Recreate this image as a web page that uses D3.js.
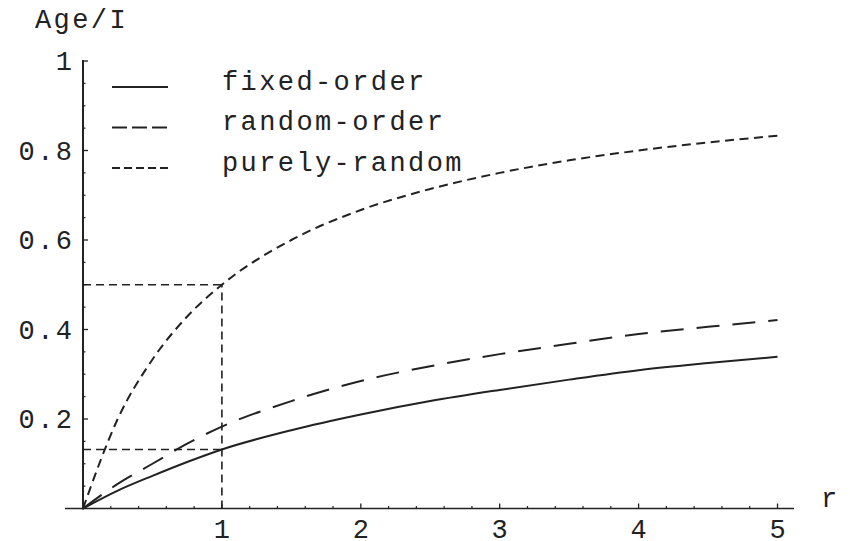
<!DOCTYPE html>
<html><head><meta charset="utf-8">
<script src="https://cdn.jsdelivr.net/npm/d3@7"></script>
<style>
html,body{margin:0;padding:0;background:#fff;}
svg{display:block;}
text{font-family:"Liberation Mono","DejaVu Sans Mono",monospace;fill:#222;}
</style></head>
<body>
<svg id="chart" width="850" height="541"></svg>
<script>
// ---- data ----
const rValues      = [0, 0.25, 0.5, 0.75, 1, 1.5, 2, 2.5, 3, 3.5, 4, 4.5, 5];
const fixedOrder   = [0, 0.040, 0.073, 0.104, 0.132, 0.175, 0.210, 0.240, 0.265, 0.288, 0.309, 0.325, 0.339];
const randomOrder  = [0, 0.055, 0.100, 0.145, 0.183, 0.240, 0.285, 0.318, 0.345, 0.368, 0.390, 0.406, 0.421];
const purelyRandom = [0, 0.200, 0.333, 0.429, 0.500, 0.600, 0.667, 0.714, 0.750, 0.778, 0.800, 0.818, 0.833];
const seriesNames  = ["fixed-order", "random-order", "purely-random"];
const xTickLabels  = ["1", "2", "3", "4", "5"];
const yTickLabels  = ["0.2", "0.4", "0.6", "0.8", "1"];
const markR = 1;                 // marked point on the r axis
const markPurely = 0.5;          // purely-random value at r = 1
const markFixed = 0.132;         // fixed-order value at r = 1

const svg = d3.select("#chart");
const x = d3.scaleLinear().domain([0, 5]).range([83, 777.5]);
const y = d3.scaleLinear().domain([0, 1]).range([508.5, 61]);
const ink = "#222";
const LS = 2.4, FS = 27;

// axes lines
svg.append("line").attr("x1", 65).attr("x2", 794).attr("y1", y(0)).attr("y2", y(0))
  .attr("stroke", ink).attr("stroke-width", 1.6);
svg.append("line").attr("x1", x(0)).attr("x2", x(0)).attr("y1", y(0) + 1).attr("y2", y(1) - 1)
  .attr("stroke", ink).attr("stroke-width", 2);

// x ticks (major at integers, minor each 0.2)
const xMinor = d3.range(0, 5.01, 0.2).filter(v => Math.abs(v - Math.round(v)) > 1e-6);
svg.append("g").selectAll("line").data(xMinor).join("line")
  .attr("x1", d => x(d)).attr("x2", d => x(d)).attr("y1", y(0)).attr("y2", y(0) - 2.5)
  .attr("stroke", ink).attr("stroke-width", 1.2);
svg.append("g").selectAll("line").data(xTickLabels).join("line")
  .attr("x1", d => x(+d)).attr("x2", d => x(+d)).attr("y1", y(0)).attr("y2", y(0) - 5)
  .attr("stroke", ink).attr("stroke-width", 1.3);
svg.append("g").selectAll("text").data(xTickLabels).join("text")
  .attr("x", d => x(+d) + LS / 2).attr("y", 538).attr("text-anchor", "middle")
  .attr("font-size", FS).attr("letter-spacing", LS).text(d => d);

// y ticks (major each 0.2, minor each 0.05)
const yMinor = d3.range(0.05, 1.001, 0.05).filter(v => Math.abs(v * 5 - Math.round(v * 5)) > 1e-6);
svg.append("g").selectAll("line").data(yMinor).join("line")
  .attr("x1", x(0)).attr("x2", x(0) + 2.5).attr("y1", d => y(d)).attr("y2", d => y(d))
  .attr("stroke", ink).attr("stroke-width", 1.2);
svg.append("g").selectAll("line").data(yTickLabels).join("line")
  .attr("x1", x(0)).attr("x2", x(0) + 5).attr("y1", d => y(+d)).attr("y2", d => y(+d))
  .attr("stroke", ink).attr("stroke-width", 1.3);
svg.append("g").selectAll("text").data(yTickLabels).join("text")
  .attr("x", 72 + LS).attr("y", d => y(+d) + 9).attr("text-anchor", "end")
  .attr("font-size", FS).attr("letter-spacing", LS).text(d => d);

// axis titles
svg.append("text").attr("x", 35).attr("y", 28).attr("font-size", FS).attr("letter-spacing", LS).text("Age/I");
svg.append("text").attr("x", 821).attr("y", 507).attr("font-size", FS).attr("letter-spacing", LS).text("r");

// drop lines
const dropDash = "8,5";
const drops = [
  [x(0), y(markPurely), x(markR), y(markPurely)],
  [x(0), y(markFixed), x(markR), y(markFixed)],
  [x(markR), y(0), x(markR), y(markPurely)]
];
svg.append("g").selectAll("line").data(drops).join("line")
  .attr("x1", d => d[0]).attr("y1", d => d[1]).attr("x2", d => d[2]).attr("y2", d => d[3])
  .attr("stroke", ink).attr("stroke-width", 1.6).attr("stroke-dasharray", dropDash);

// curves
const allSeries = [fixedOrder, randomOrder, purelyRandom];
const dashes = [null, "23,13", "9,5.5"];
const line = d3.line().x(d => x(d[0])).y(d => y(d[1])).curve(d3.curveMonotoneX);
allSeries.forEach((vals, i) => {
  svg.append("path").datum(rValues.map((r, k) => [r, vals[k]]))
    .attr("d", line).attr("fill", "none").attr("stroke", ink).attr("stroke-width", 2)
    .attr("stroke-dasharray", dashes[i]);
});

// legend
const legendDash = [null, "15,5", "8,4"];
seriesNames.forEach((name, i) => {
  const ly = 87 + i * 40.5;
  svg.append("line").attr("x1", 112).attr("x2", 168).attr("y1", ly).attr("y2", ly)
    .attr("stroke", ink).attr("stroke-width", 2).attr("stroke-dasharray", legendDash[i]);
  svg.append("text").attr("x", 222).attr("y", ly + 2.5).attr("font-size", FS)
    .attr("letter-spacing", LS).text(name);
});
</script>
</body></html>
